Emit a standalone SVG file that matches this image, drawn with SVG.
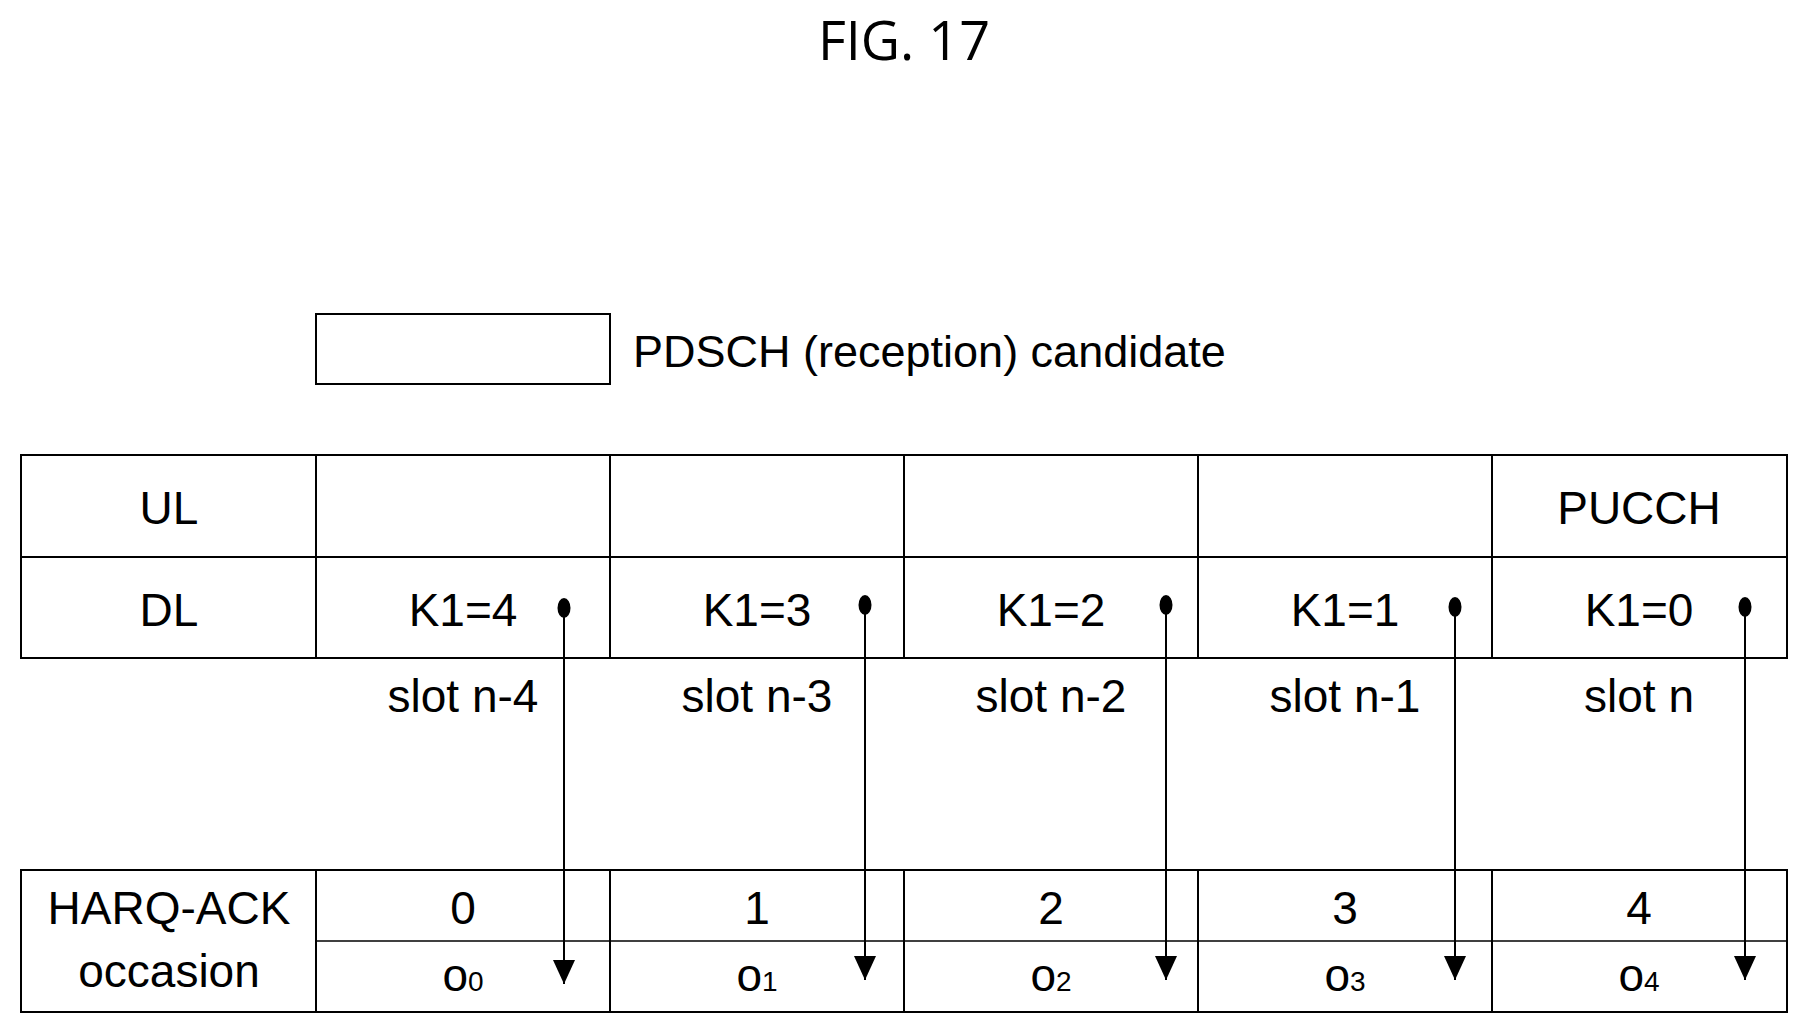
<svg xmlns="http://www.w3.org/2000/svg" width="1808" height="1032" viewBox="0 0 1808 1032">
<style>
.t{font-family:"Liberation Sans",Arial,sans-serif;font-size:46px;fill:#000;text-anchor:middle}
.ln{stroke:#000;stroke-width:2;fill:none}
.sub{font-size:28px}
</style>
<defs>
<marker id="ah" markerWidth="26" markerHeight="24" refX="24" refY="11" orient="auto" markerUnits="userSpaceOnUse"><path d="M0,0 L24,11 L0,22 Z" fill="#000"/></marker>
</defs>
<rect width="1808" height="1032" fill="#fff"/>
<text x="904" y="60" style="font-family:'Open Sans','Liberation Sans',sans-serif;font-size:54px;text-anchor:middle">FIG. 17</text>
<g id="legend">
<rect x="316" y="314" width="294" height="70" class="ln"/>
<text x="633" y="367" class="t" style="text-anchor:start;font-size:45px">PDSCH (reception) candidate</text>
</g>
<g id="grid">
<rect x="21" y="455" width="1766" height="203" class="ln"/>
<line x1="21" y1="557" x2="1787" y2="557" class="ln"/>
<line x1="316" y1="455" x2="316" y2="658" class="ln"/>
<line x1="610" y1="455" x2="610" y2="658" class="ln"/>
<line x1="904" y1="455" x2="904" y2="658" class="ln"/>
<line x1="1198" y1="455" x2="1198" y2="658" class="ln"/>
<line x1="1492" y1="455" x2="1492" y2="658" class="ln"/>
<rect x="21" y="870" width="1766" height="142" class="ln"/>
<line x1="316" y1="941" x2="1787" y2="941" stroke="#000" stroke-width="1.5"/>
<line x1="316" y1="870" x2="316" y2="1012" class="ln"/>
<line x1="610" y1="870" x2="610" y2="1012" class="ln"/>
<line x1="904" y1="870" x2="904" y2="1012" class="ln"/>
<line x1="1198" y1="870" x2="1198" y2="1012" class="ln"/>
<line x1="1492" y1="870" x2="1492" y2="1012" class="ln"/>
</g>
<g id="labels">
<text x="169" y="524" class="t">UL</text>
<text x="1639" y="524" class="t">PUCCH</text>
<text x="169" y="626" class="t">DL</text>
<text x="463" y="626" class="t">K1=4</text>
<text x="757" y="626" class="t">K1=3</text>
<text x="1051" y="626" class="t">K1=2</text>
<text x="1345" y="626" class="t">K1=1</text>
<text x="1639" y="626" class="t">K1=0</text>
<text x="463" y="712" class="t">slot n-4</text>
<text x="757" y="712" class="t">slot n-3</text>
<text x="1051" y="712" class="t">slot n-2</text>
<text x="1345" y="712" class="t">slot n-1</text>
<text x="1639" y="712" class="t">slot n</text>
<text x="169" y="924" class="t">HARQ-ACK</text>
<text x="169" y="987" class="t">occasion</text>
<text x="463" y="924" class="t">0</text>
<text x="757" y="924" class="t">1</text>
<text x="1051" y="924" class="t">2</text>
<text x="1345" y="924" class="t">3</text>
<text x="1639" y="924" class="t">4</text>
<text x="463" y="991" class="t">o<tspan class="sub">0</tspan></text>
<text x="757" y="991" class="t">o<tspan class="sub">1</tspan></text>
<text x="1051" y="991" class="t">o<tspan class="sub">2</tspan></text>
<text x="1345" y="991" class="t">o<tspan class="sub">3</tspan></text>
<text x="1639" y="991" class="t">o<tspan class="sub">4</tspan></text>
</g>
<g id="connectors">
<ellipse cx="564" cy="608" rx="6.5" ry="10"/>
<ellipse cx="865" cy="605" rx="6.5" ry="10"/>
<ellipse cx="1166" cy="605" rx="6.5" ry="10"/>
<ellipse cx="1455" cy="607" rx="6.5" ry="10"/>
<ellipse cx="1745" cy="607" rx="6.5" ry="10"/>
<line x1="564" y1="608" x2="564" y2="984" class="ln" marker-end="url(#ah)"/>
<line x1="865" y1="605" x2="865" y2="980" class="ln" marker-end="url(#ah)"/>
<line x1="1166" y1="605" x2="1166" y2="980" class="ln" marker-end="url(#ah)"/>
<line x1="1455" y1="607" x2="1455" y2="980" class="ln" marker-end="url(#ah)"/>
<line x1="1745" y1="607" x2="1745" y2="980" class="ln" marker-end="url(#ah)"/>
</g>
</svg>
